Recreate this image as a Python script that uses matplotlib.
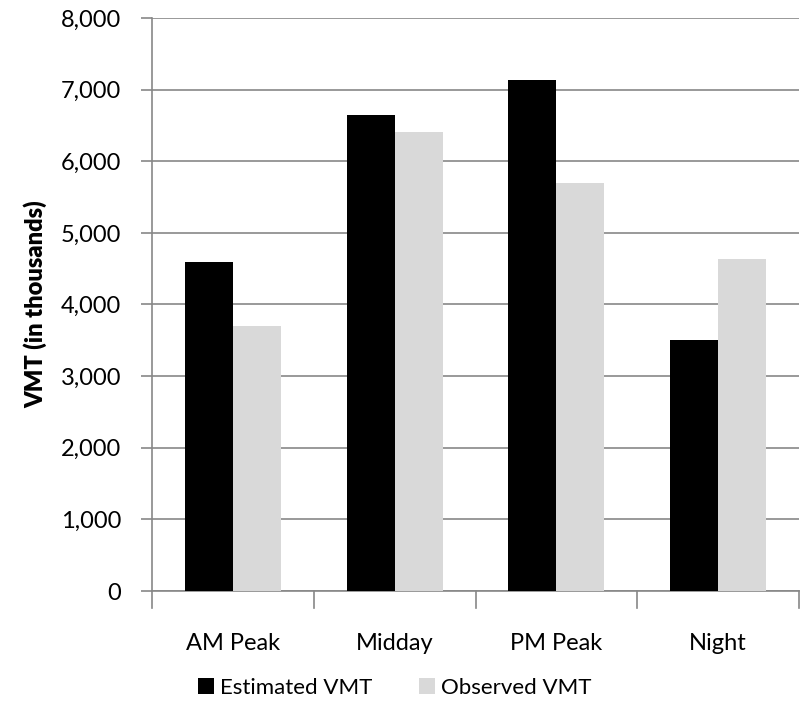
import matplotlib
matplotlib.use("Agg")
import matplotlib.pyplot as plt
import numpy as np
from matplotlib.ticker import FuncFormatter, MultipleLocator

categories = ["AM Peak", "Midday", "PM Peak", "Night"]
estimated = [4590, 6640, 7140, 3500]
observed = [3700, 6410, 5700, 4635]
series_names = ["Estimated VMT", "Observed VMT"]

plt.rcParams['font.family'] = ['Lato', 'DejaVu Sans']
FS = 17

fig = plt.figure(figsize=(8.01, 7.11), dpi=100)
ax = fig.add_axes([152/801, 1-591/711, (799-152)/801, (591-18)/711])

x = np.arange(len(categories))
w = 0.296
ax.bar(x - w/2, estimated, w, color='black', label=series_names[0], zorder=3)
ax.bar(x + w/2, observed, w, color='#d9d9d9', label=series_names[1], zorder=3)

ax.set_xlim(-0.5, len(categories) - 0.5)
ax.set_ylim(0, 8000)
ax.yaxis.set_major_locator(MultipleLocator(1000))
ax.yaxis.set_major_formatter(FuncFormatter(lambda v, p: f"{int(v):,}"))
ax.grid(axis='y', color='#878787', linewidth=1.2, zorder=0)

ax.set_xticks(x)
ax.set_xticklabels(categories, fontsize=FS)
ax.tick_params(axis='x', length=0, pad=30)
for b in np.arange(-0.5, len(categories), 1.0):
    ax.plot([b, b], [0, -0.03], transform=ax.get_xaxis_transform(), color='#878787', lw=1.2, clip_on=False)
ax.tick_params(axis='y', labelsize=FS, length=8, color='#878787', width=1.2, pad=14)

for s in ['top', 'right']:
    ax.spines[s].set_visible(False)
for s in ['left', 'bottom']:
    ax.spines[s].set_color('#878787')
    ax.spines[s].set_linewidth(1.2)

ax.set_ylabel("VMT (in thousands)", fontsize=FS, fontweight='heavy', labelpad=10)

fig.legend(loc='center', bbox_to_anchor=(395/801, 1 - 688/711), ncol=2, frameon=False,
           fontsize=16, handlelength=0.7, handleheight=0.7, handletextpad=0.3, columnspacing=2.1)

fig.savefig("out.png", dpi=100)
